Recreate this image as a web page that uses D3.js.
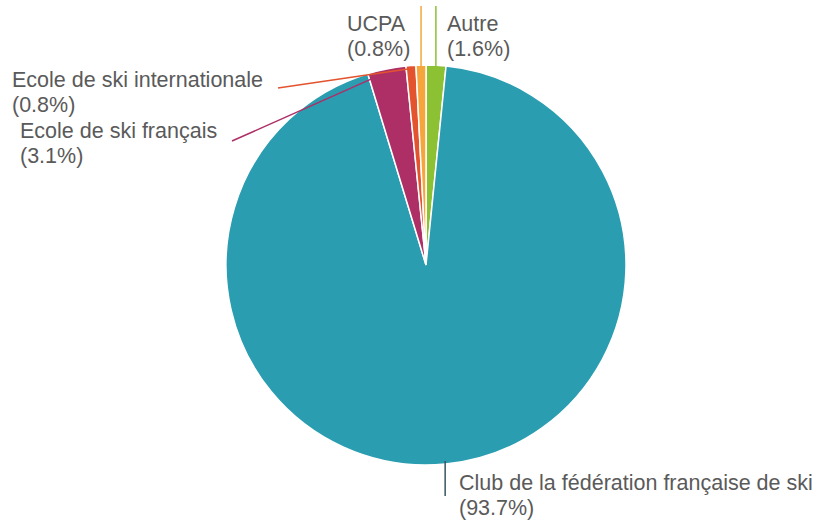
<!DOCTYPE html>
<html><head><meta charset="utf-8">
<script src="https://cdn.jsdelivr.net/npm/d3@7"></script>
<style>html,body{margin:0;padding:0;background:#fff;}</style>
</head><body>
<svg id="chart" width="827" height="522"></svg>
<script>
const categories = ["Autre", "Club de la fédération française de ski", "Ecole de ski français", "Ecole de ski internationale", "UCPA"];
const values = [1.6, 93.7, 3.1, 0.8, 0.8];
const valueLabels = ["(1.6%)", "(93.7%)", "(3.1%)", "(0.8%)", "(0.8%)"];
const colors = ["#8cc134", "#2a9db0", "#ad2f66", "#e2532e", "#f5a53c"];

// label layout: text anchor x, first baseline y, leader end point
const layout = [
  {tx: 447, ty: 31, ex: 436, ey: 6, vertical: true},
  {tx: 459, ty: 490, ex: 445, ey: 496, vertical: true},
  {tx: 20, ty: 138, ex: 232, ey: 141, vertical: false},
  {tx: 12, ty: 87, ex: 278, ey: 88, vertical: false},
  {tx: 347, ty: 31, ex: 419, ey: 6, vertical: true}
];

const svg = d3.select("#chart");
const cx = 426, cy = 265, R = 200;
const g = svg.append("g").attr("transform", `translate(${cx},${cy})`);
const pie = d3.pie().sort(null).value(d => d)(values);
const arc = d3.arc().innerRadius(0).outerRadius(R);

g.selectAll("path.slice").data(pie).enter().append("path")
  .attr("class", "slice")
  .attr("d", arc)
  .attr("fill", (d, i) => colors[i])
  .attr("stroke", "#fff")
  .attr("stroke-width", 1.5);

pie.forEach((d, i) => {
  const a = (d.startAngle + d.endAngle) / 2;
  const sx = cx + (R - 3) * Math.sin(a);
  const sy = cy - (R - 3) * Math.cos(a);
  const L = layout[i];
  const ex = L.vertical ? sx : L.ex;
  svg.append("line")
    .attr("x1", sx).attr("y1", sy)
    .attr("x2", ex).attr("y2", L.ey)
    .attr("stroke", i === 1 ? "#3a5560" : colors[i])
    .attr("stroke-width", 1.5);
  const t = svg.append("text")
    .attr("x", L.tx).attr("y", L.ty)
    .attr("font-family", "Liberation Sans, Arial, sans-serif")
    .attr("font-size", 21.5)
    .attr("fill", "#5a5a5a");
  t.append("tspan").attr("x", L.tx).text(categories[i]);
  t.append("tspan").attr("x", L.tx).attr("dy", 25).text(valueLabels[i]);
});
</script>
</body></html>
